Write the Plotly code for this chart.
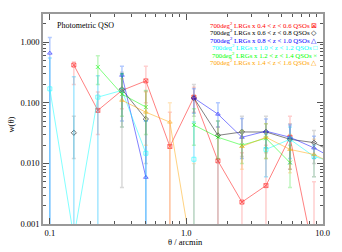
import plotly.graph_objects as go

theta = [0.100, 0.150, 0.225, 0.338, 0.506, 0.759, 1.139, 1.709, 2.563, 3.844, 5.767, 8.650, 12.97]

red_w    = [None, 0.42, 0.075, 0.16, 0.23, 0.019, 0.124, 0.011, 0.0023, 0.0043, 0.027, 0.0003, None]
red_lo   = [None, 0.20, 0.03, 0.08, 0.10, 1e-5, 0.07, 1e-5, 1e-5, 1e-5, 0.008, 1e-5, None]
red_hi   = [None, 0.47, 0.15, 0.30, 0.40, 0.07, 0.18, 0.04, 0.015, 0.02, 0.06, 0.005, None]

black_w  = [None, 0.032, None, 0.167, 0.054, None, 0.12, 0.029, 0.033, 0.033, 0.025, 0.022, 0.014]
black_lo = [None, 0.012, None, 0.004, 0.010, None, 0.06, 1e-5, 0.013, 0.015, 0.008, 0.010, 0.006]
black_hi = [None, 0.060, None, 0.32, 0.155, None, 0.20, 0.05, 0.060, 0.060, 0.045, 0.035, 0.025]

blue_w   = [0.66, None, None, 0.285, 0.0059, None, 0.12, 0.065, 0.027, 0.034, 0.027, 0.018, 0.011]
blue_lo  = [1e-5, None, None, 0.05, 1e-5, None, 0.067, 0.04, 0.012, 0.018, 0.010, 0.012, 0.007]
blue_hi  = [1.2, None, None, 0.40, 0.05, None, 0.17, 0.10, 0.055, 0.054, 0.043, 0.028, 0.016]

cyan_w   = [0.17, 0.0006, 0.124, 0.16, 0.0147, None, 0.0117, None, None, 0.017, 0.025, 0.013, 0.010]
cyan_lo  = [1e-5, 1e-5, 1e-5, 0.04, 1e-5, None, 1e-5, None, None, 0.006, 0.012, 0.006, 0.005]
cyan_hi  = [0.55, 0.27, 0.28, 0.30, 0.05, None, 0.048, None, None, 0.030, 0.040, 0.020, 0.018]

green_w  = [None, None, 0.39, 0.139, 0.085, None, 0.043, 0.027, 0.020, 0.026, 0.0103, None, None]
green_lo = [None, None, 0.20, 0.06, 0.03, None, 0.02, 0.012, 0.010, 0.012, 0.004, None, None]
green_hi = [None, None, 0.60, 0.30, 0.16, None, 0.08, 0.05, 0.035, 0.045, 0.020, None, None]

orange_w  = [None, None, None, 0.11, 0.07, 0.048, 0.0002, None, 0.019, 0.027, 0.017, 0.014, 0.009]
orange_lo = [None, None, None, 0.04, 0.02, 1e-5, 1e-5, None, 0.008, 0.012, 0.007, 0.006, 0.004]
orange_hi = [None, None, None, 0.25, 0.15, 0.10, 0.01, None, 0.035, 0.045, 0.030, 0.025, 0.018]

labels = [
    "700deg<sup>2</sup> LRGs x 0.4 < z < 0.6 QSOs ⊠",
    "700deg<sup>2</sup> LRGs x 0.6 < z < 0.8 QSOs ◇",
    "700deg<sup>2</sup> LRGs x 0.8 < z < 1.0 QSOs △",
    "700deg<sup>2</sup> LRGs x 1.0 < z < 1.2 QSOs □",
    "700deg<sup>2</sup> LRGs x 1.2 < z < 1.4 QSOs ×",
    "700deg<sup>2</sup> LRGs x 1.4 < z < 1.6 QSOs △",
]

series = [
    (red_w, red_lo, red_hi, "#ff0000", "rgba(255,120,120,0.5)", "square-x-open"),
    (black_w, black_lo, black_hi, "#000000", "rgba(120,120,120,0.4)", "diamond-open"),
    (blue_w, blue_lo, blue_hi, "#0000ff", "rgba(60,120,255,0.55)", "triangle-up-open"),
    (cyan_w, cyan_lo, cyan_hi, "#00ffff", "rgba(0,190,255,0.5)", "square-open"),
    (green_w, green_lo, green_hi, "#00ff00", "rgba(0,220,0,0.35)", "x-thin-open"),
    (orange_w, orange_lo, orange_hi, "#ffa500", "rgba(255,170,40,0.4)", "triangle-up-open"),
]

fig = go.Figure()
for (w, lo, hi, col, ecol, sym) in series:
    plus = [None if v is None else h - v for v, h in zip(w, hi)]
    minus = [None if v is None else v - l for v, l in zip(w, lo)]
    fig.add_trace(go.Scatter(
        x=theta, y=w, mode="lines+markers",
        line=dict(color=col, width=0.7),
        opacity=0.7,
        marker=dict(symbol=sym, size=4, color=col, line=dict(color=col, width=0.8)),
        error_y=dict(type="data", symmetric=False, array=plus, arrayminus=minus,
                     color=ecol, thickness=1.5, width=2),
        connectgaps=False, showlegend=False, cliponaxis=True,
    ))

colors = ["#ff0000", "#000000", "#0000ff", "#00ffff", "#00ff00", "#ffa500"]
for i, (lab, c) in enumerate(zip(labels, colors)):
    ypx = 24.5 + 7.6 * i
    fig.add_annotation(x=0.982, y=(224 - ypx) / 210, xref="paper", yref="paper",
                       xanchor="right", yanchor="middle", showarrow=False, borderpad=0,
                       text=lab, font=dict(color=c, size=6.8, family="Liberation Serif"))

fig.add_annotation(x=0.042, y=(224 - 25) / 210, xref="paper", yref="paper",
                   xanchor="left", yanchor="middle", showarrow=False,
                   text="Photometric QSO", font=dict(color="#000000", size=8, family="Liberation Serif"))

# axis titles
fig.add_annotation(x=(188 - 43) / 285, y=(224 - 242) / 210, xref="paper", yref="paper",
                   xanchor="center", yanchor="middle", showarrow=False,
                   text="θ / arcmin", font=dict(color="#000000", size=8.5, family="Liberation Serif"))
fig.add_annotation(x=(10 - 43) / 285, y=(224 - 125) / 210, xref="paper", yref="paper",
                   xanchor="center", yanchor="middle", showarrow=False, textangle=-90,
                   text="w(θ)", font=dict(color="#000000", size=8.5, family="Liberation Serif"))

ymin_minor = []
for d in [0.001, 0.01, 0.1, 1.0]:
    for k in range(2, 10):
        ymin_minor.append(k * d)
xmin_minor = []
for d in [0.1, 1.0]:
    for k in range(2, 10):
        xmin_minor.append(k * d)

axcommon = dict(showline=True, linecolor="#999999", linewidth=1.5, mirror="ticks",
                ticks="inside", tickcolor="#555555", showgrid=False, zeroline=False,
                tickfont=dict(family="Liberation Serif", size=8.5, color="#000000"))

fig.update_layout(
    width=342, height=252,
    margin=dict(l=43, r=14, t=14, b=28),
    paper_bgcolor="white", plot_bgcolor="white",
    xaxis=dict(type="log", range=[-1.05, 1.003],
               tickvals=[0.1, 1.0, 10.0], ticktext=["0.1", "1.0", "10.0"], ticklen=6,
               minor=dict(tickvals=xmin_minor, ticks="inside", ticklen=3, tickcolor="#555555"),
               **axcommon),
    yaxis=dict(type="log", range=[-3, 0.465],
               tickvals=[0.001, 0.01, 0.1, 1.0], ticktext=["0.001", "0.010", "0.100", "1.000"], ticklen=6,
               minor=dict(tickvals=ymin_minor, ticks="inside", ticklen=3, tickcolor="#555555"),
               **axcommon),
)

fig.write_html("out.html", config={"displayModeBar": False},
               post_script="document.body.style.margin='0';document.body.style.overflow='hidden';")
